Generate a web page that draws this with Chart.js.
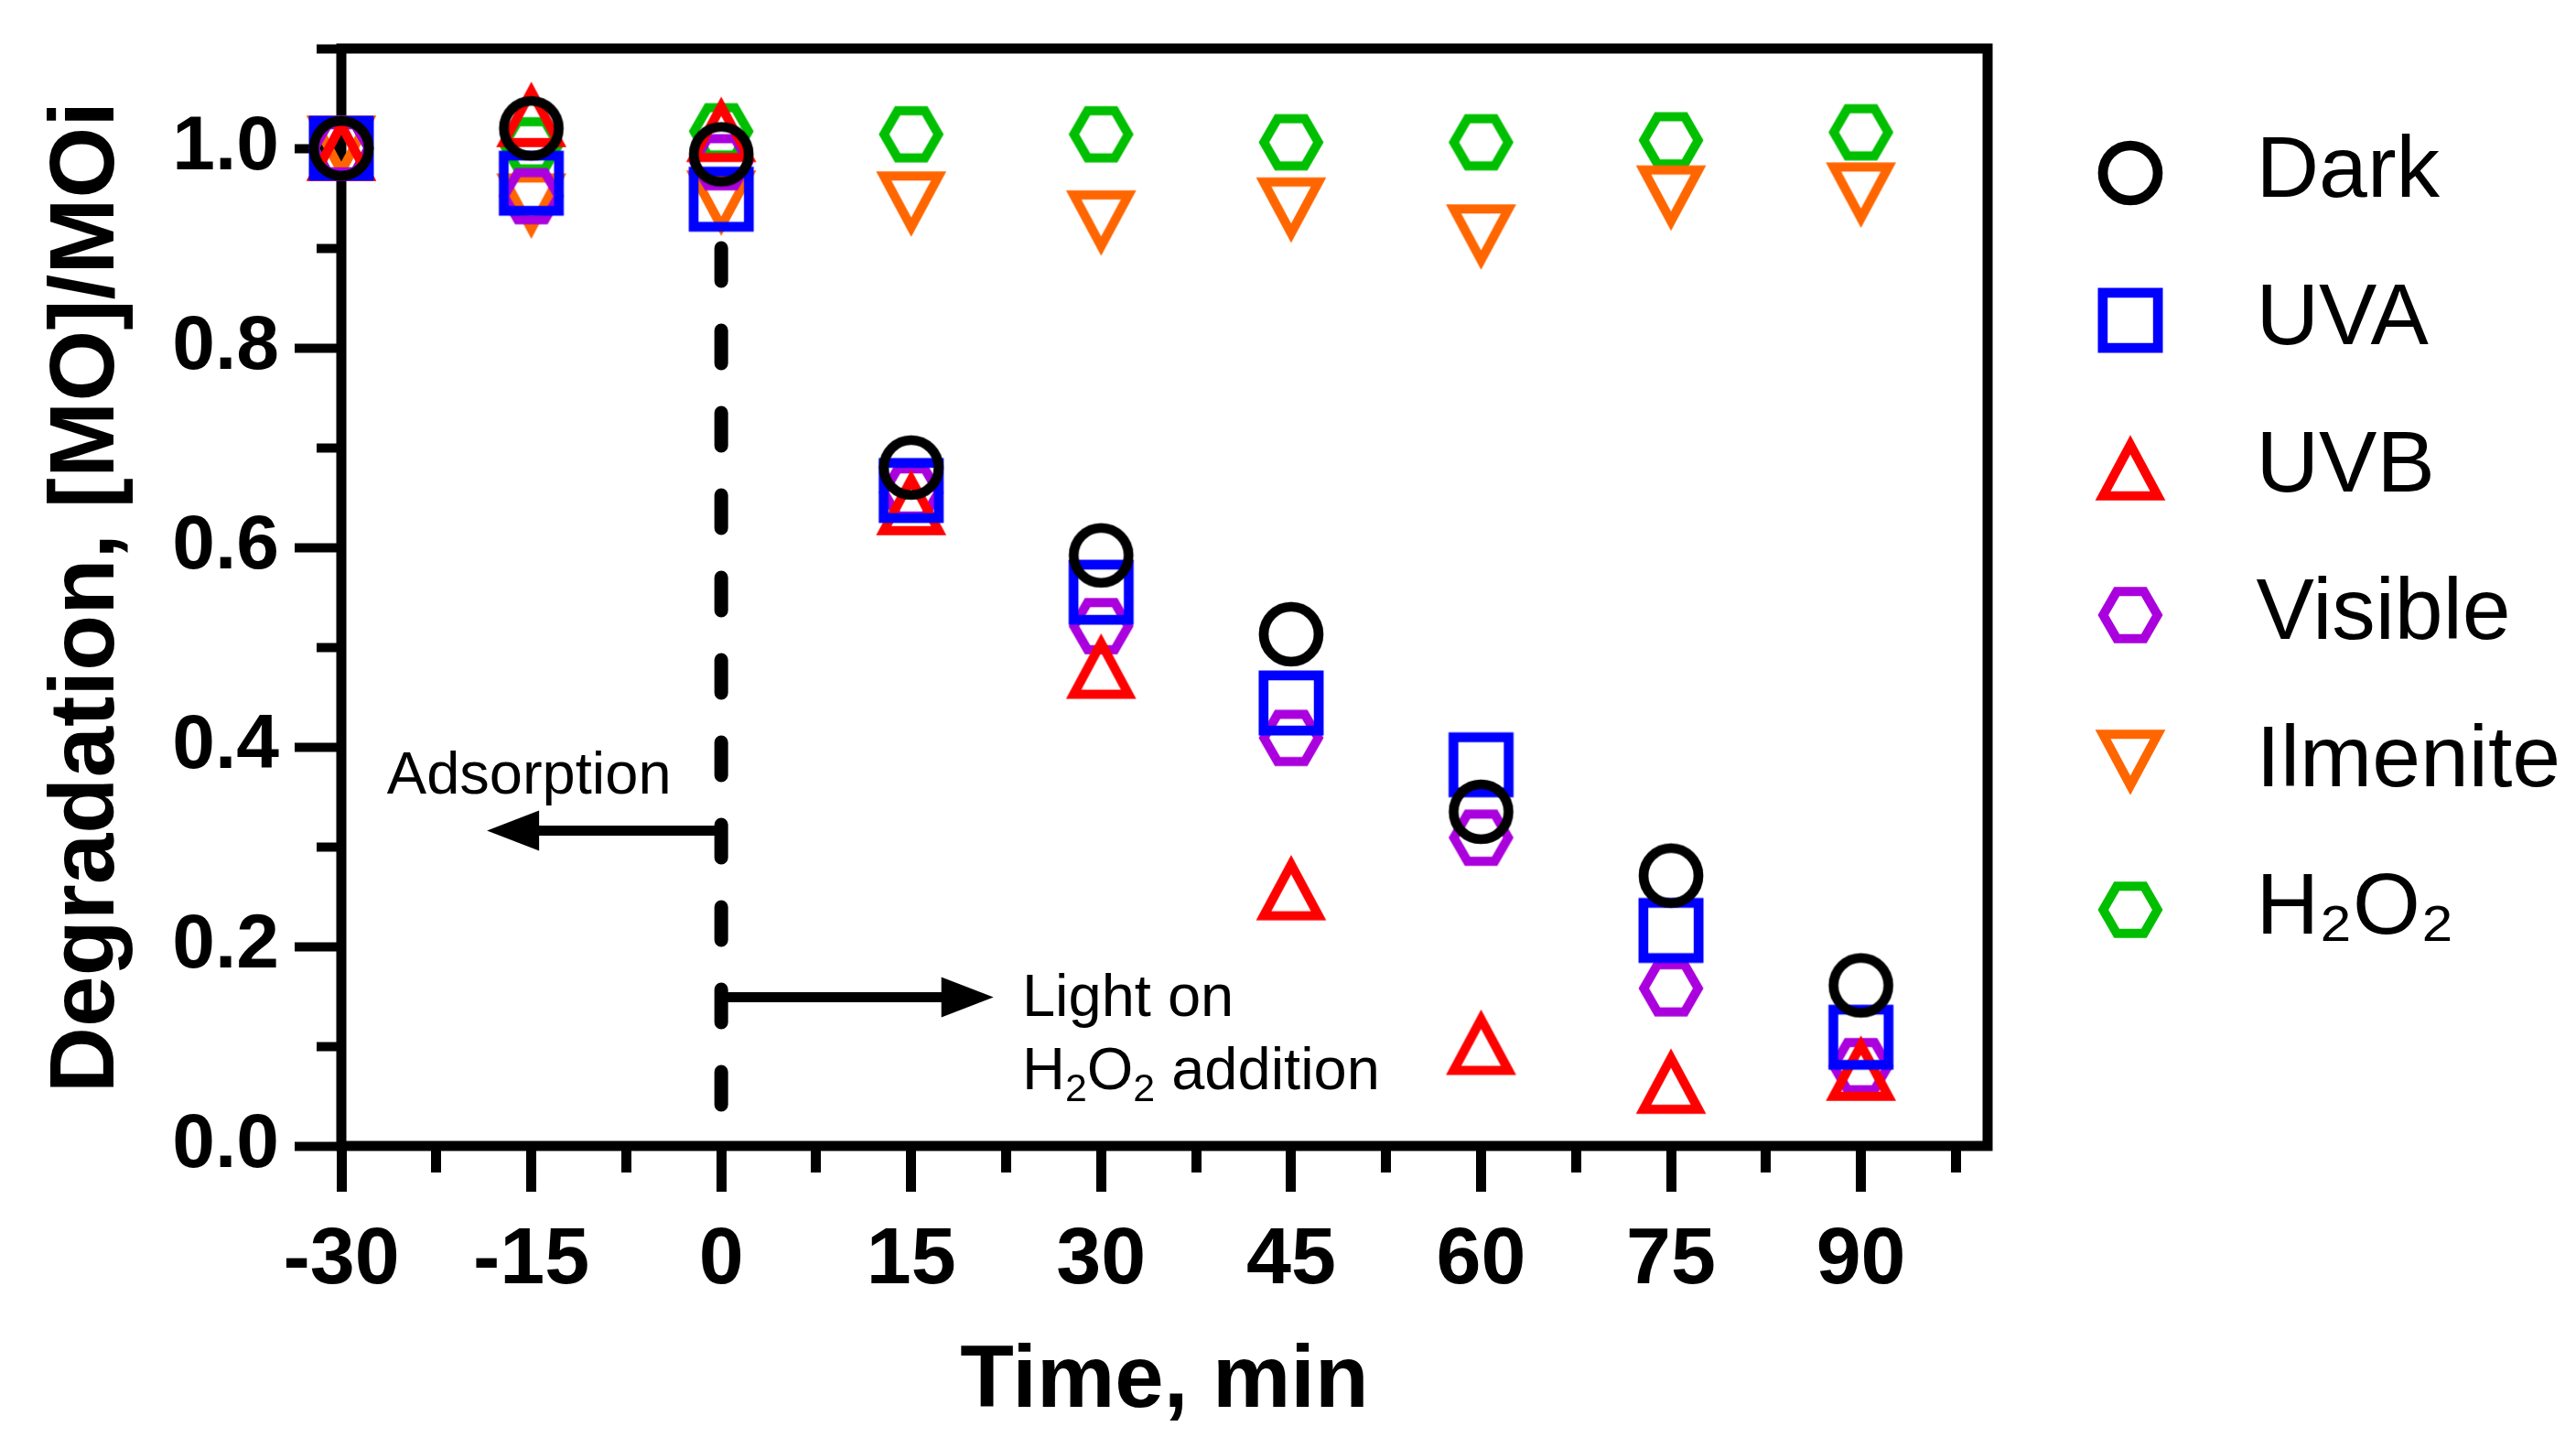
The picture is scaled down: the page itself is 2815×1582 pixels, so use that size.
<!DOCTYPE html>
<html>
<head>
<meta charset="utf-8">
<script src="https://cdn.jsdelivr.net/npm/chart.js@4.4.0/dist/chart.umd.min.js"></script>
<style>
  html, body { margin: 0; padding: 0; background: #ffffff; }
  #wrap { width: 2815px; height: 1582px; }
</style>
</head>
<body>
<div id="wrap"><canvas id="c" width="2815" height="1582"></canvas></div>
<script>
// ---------------- data ----------------
const timeMin = [-30, -15, 0, 15, 30, 45, 60, 75, 90];
const darkValues     = [1.000, 1.020, 0.994, 0.680, 0.592, 0.513, 0.335, 0.271, 0.161];
const uvaValues      = [1.000, 0.965, 0.949, 0.657, 0.555, 0.444, 0.382, 0.216, 0.109];
const uvbValues      = [1.000, 1.034, 1.019, 0.645, 0.481, 0.259, 0.104, 0.065, 0.078];
const visibleValues  = [1.000, 0.952, 0.986, 0.655, 0.521, 0.409, 0.309, 0.158, 0.080];
const ilmeniteValues = [1.000, 0.942, 0.945, 0.944, 0.925, 0.938, 0.911, 0.950, 0.953];
const h2o2Values     = [1.000, 1.003, 1.017, 1.014, 1.014, 1.006, 1.006, 1.008, 1.016];
const seriesNames = ['Dark', 'UVA', 'UVB', 'Visible', 'Ilmenite', 'H\u2082O\u2082'];

const xTickValues = [-30, -15, 0, 15, 30, 45, 60, 75, 90];
const xTickLabels = ['-30', '-15', '0', '15', '30', '45', '60', '75', '90'];
const yTickValues = [0, 0.2, 0.4, 0.6, 0.8, 1.0];
const yTickLabels = ['0.0', '0.2', '0.4', '0.6', '0.8', '1.0'];

// vertical dashed marker at t = 0 (data space)
const lightOnLine = [{ x: 0, y: 0.9 }, { x: 0, y: 0 }];
// annotation arrows and texts (data space)
const annotationArrows = [
  { x0: 0, y0: 0.316, x1: -18.5, y1: 0.316 },
  { x0: 0, y0: 0.149, x1: 21.5, y1: 0.149 }
];
const annotationTexts = [
  { x: -26.4, y: 0.353, runs: [['Adsorption', 0]] },
  { x: 23.76, y: 0.130, runs: [['Light on', 0]] },
  { x: 23.76, y: 0.057, runs: [['H', 0], ['2', 1], ['O', 0], ['2', 1], [' addition', 0]] }
];

// ---------------- styles ----------------
const PLOT = { left: 373, top: 53, right: 2172, bottom: 1252 };
const W = 2815, H = 1582;
const colors = ['#000000', '#0000FF', '#FF0000', '#AA00DD', '#FF6600', '#00BF00'];
const shapes = ['circle', 'square', 'triUp', 'hex', 'triDown', 'hex'];

function makeMarker(shape, color) {
  const S = 96;
  const c = document.createElement('canvas');
  c.width = S; c.height = S;
  const g = c.getContext('2d');
  g.translate(S / 2, S / 2);
  g.strokeStyle = color;
  g.lineJoin = 'miter';
  g.miterLimit = 10;
  g.beginPath();
  if (shape === 'circle') {
    g.lineWidth = 10.7;
    g.arc(0, 0, 30, 0, Math.PI * 2);
  } else if (shape === 'square') {
    g.lineWidth = 10.7;
    g.rect(-30.15, -30.15, 60.3, 60.3);
  } else if (shape === 'triUp') {
    g.lineWidth = 10;
    const b = 30, h = 56, off = 2.8;
    g.moveTo(0, -h / 2 + off); g.lineTo(b, h / 2 + off); g.lineTo(-b, h / 2 + off); g.closePath();
  } else if (shape === 'triDown') {
    g.lineWidth = 10;
    const b = 30, h = 56, off = 2.8;
    g.moveTo(0, h / 2 - off); g.lineTo(b, -h / 2 - off); g.lineTo(-b, -h / 2 - off); g.closePath();
  } else if (shape === 'hex') {
    g.lineWidth = 10;
    const R = 29.7;
    for (let k = 0; k < 6; k++) {
      const a = k * Math.PI / 3;
      const px = R * Math.cos(a), py = R * Math.sin(a);
      if (k === 0) g.moveTo(px, py); else g.lineTo(px, py);
    }
    g.closePath();
  }
  g.stroke();
  return c;
}

const allValues = [darkValues, uvaValues, uvbValues, visibleValues, ilmeniteValues, h2o2Values];
const datasets = allValues.map((vals, i) => ({
  label: seriesNames[i],
  data: timeMin.map((t, j) => ({ x: t, y: vals[j] })),
  pointStyle: makeMarker(shapes[i], colors[i]),
  pointRadius: 36,
  pointHoverRadius: 36,
  borderColor: colors[i],
  backgroundColor: 'rgba(0,0,0,0)',
  showLine: false,
  clip: false
}));
datasets.push({
  label: 'divider',
  data: lightOnLine,
  showLine: true,
  borderColor: '#000000',
  borderWidth: 15,
  borderDash: [36, 54],
  borderCapStyle: 'round',
  pointRadius: 0,
  pointHoverRadius: 0,
  fill: false
});

function near(v, arr) { return arr.findIndex(m => Math.abs(m - v) < 1e-6); }

const framePlugin = {
  id: 'frame',
  beforeDatasetsDraw(chart) {
    const { ctx, chartArea: a } = chart;
    ctx.save();
    ctx.strokeStyle = '#000';
    ctx.lineWidth = 11;
    ctx.lineJoin = 'miter';
    ctx.strokeRect(a.left, a.top, a.right - a.left, a.bottom - a.top);
    ctx.restore();
  }
};

const annotationPlugin = {
  id: 'annotations',
  afterDatasetsDraw(chart) {
    const { ctx } = chart;
    const xs = chart.scales.x, ys = chart.scales.y;
    ctx.save();
    ctx.fillStyle = '#000';
    ctx.strokeStyle = '#000';
    annotationArrows.forEach(a => {
      const x0 = xs.getPixelForValue(a.x0), y0 = ys.getPixelForValue(a.y0);
      const x1 = xs.getPixelForValue(a.x1), y1 = ys.getPixelForValue(a.y1);
      const dir = Math.sign(x1 - x0);
      const headLen = 57, headHalf = 22;
      ctx.lineWidth = 11;
      ctx.lineCap = 'butt';
      ctx.beginPath();
      ctx.moveTo(x0, y0);
      ctx.lineTo(x1 - dir * (headLen - 2), y1);
      ctx.stroke();
      ctx.beginPath();
      ctx.moveTo(x1, y1);
      ctx.lineTo(x1 - dir * headLen, y1 - headHalf);
      ctx.lineTo(x1 - dir * headLen, y1 + headHalf);
      ctx.closePath();
      ctx.fill();
    });
    const F = 65;
    ctx.textBaseline = 'alphabetic';
    ctx.textAlign = 'left';
    annotationTexts.forEach(t => {
      let x = xs.getPixelForValue(t.x);
      const y = ys.getPixelForValue(t.y);
      t.runs.forEach(([s, sub]) => {
        const size = sub ? F * 0.66 : F;
        ctx.font = size + 'px "Liberation Sans", Arial, sans-serif';
        ctx.fillText(s, x, sub ? y + F * 0.2 : y);
        x += ctx.measureText(s).width;
      });
    });
    ctx.restore();
  }
};

const config = {
  type: 'scatter',
  data: { datasets },
  plugins: [framePlugin, annotationPlugin],
  options: {
    responsive: false,
    animation: false,
    devicePixelRatio: 1,
    events: [],
    layout: { padding: { top: PLOT.top, left: 0, right: 0, bottom: 0 } },
    plugins: {
      tooltip: { enabled: false },
      legend: {
        display: true,
        position: 'right',
        align: 'start',
        title: { display: true, text: '', font: { size: 10, lineHeight: 1 }, padding: { top: 6.25, bottom: 6.25 } },
        labels: {
          usePointStyle: true,
          pointStyleWidth: 180,
          padding: 66,
          color: '#000',
          font: { family: '"Liberation Sans", Arial, sans-serif', size: 95, weight: 'normal' },
          filter: item => item.datasetIndex < 6
        }
      }
    },
    scales: {
      x: {
        type: 'linear',
        position: 'bottom',
        min: -30,
        max: 100,
        afterFit(s) { s.height = H - PLOT.bottom; s.paddingLeft = 0; s.paddingRight = 0; },
        border: { display: false },
        grid: {
          display: true,
          drawOnChartArea: false,
          drawTicks: true,
          tickLength: 50,
          tickWidth: 11,
          tickColor: '#000',
          tickBorderDash: c => (near(c.tick.value, xTickValues) >= 0 ? [] : [29, 200]),
          tickBorderDashOffset: 0
        },
        ticks: {
          stepSize: 7.5,
          includeBounds: false,
          autoSkip: false,
          maxRotation: 0,
          minRotation: 0,
          padding: 23,
          color: '#000',
          font: { family: '"Liberation Sans", Arial, sans-serif', size: 88, weight: 'bold' },
          callback: v => { const i = near(v, xTickValues); return i >= 0 ? xTickLabels[i] : ''; }
        },
        title: {
          display: true,
          text: 'Time, min',
          color: '#000',
          font: { family: '"Liberation Sans", Arial, sans-serif', size: 96, weight: 'bold', lineHeight: 1 },
          padding: { top: 0, bottom: 23 }
        }
      },
      y: {
        type: 'linear',
        position: 'left',
        min: 0,
        max: 1.1,
        afterFit(s) { s.width = PLOT.left; s.paddingTop = 0; s.paddingBottom = 0; },
        border: { display: false },
        grid: {
          display: true,
          drawOnChartArea: false,
          drawTicks: true,
          tickLength: 51,
          tickWidth: 10,
          tickColor: '#000',
          tickBorderDash: c => (near(c.tick.value, yTickValues) >= 0 ? [] : [27, 200]),
          tickBorderDashOffset: c => (near(c.tick.value, yTickValues) >= 0 ? 0 : -24)
        },
        ticks: {
          stepSize: 0.1,
          includeBounds: false,
          autoSkip: false,
          padding: 17,
          color: '#000',
          font: { family: '"Liberation Sans", Arial, sans-serif', size: 84, weight: 'bold' },
          callback: v => { const i = near(v, yTickValues); return i >= 0 ? yTickLabels[i] : ''; }
        },
        title: {
          display: true,
          text: 'Degradation, [MO]/MOi',
          color: '#000',
          font: { family: '"Liberation Sans", Arial, sans-serif', size: 100, weight: 'bold', lineHeight: 1 },
          padding: { top: 46, bottom: 0 }
        }
      }
    }
  }
};

const chart = new Chart(document.getElementById('c'), config);
function fitRight() {
  const dr = chart.chartArea.right - PLOT.right;
  if (Math.abs(dr) > 0.25) {
    chart.options.layout.padding.right += dr;
    chart.update('none');
  }
}
fitRight();
fitRight();
fitRight();
</script>
</body>
</html>
